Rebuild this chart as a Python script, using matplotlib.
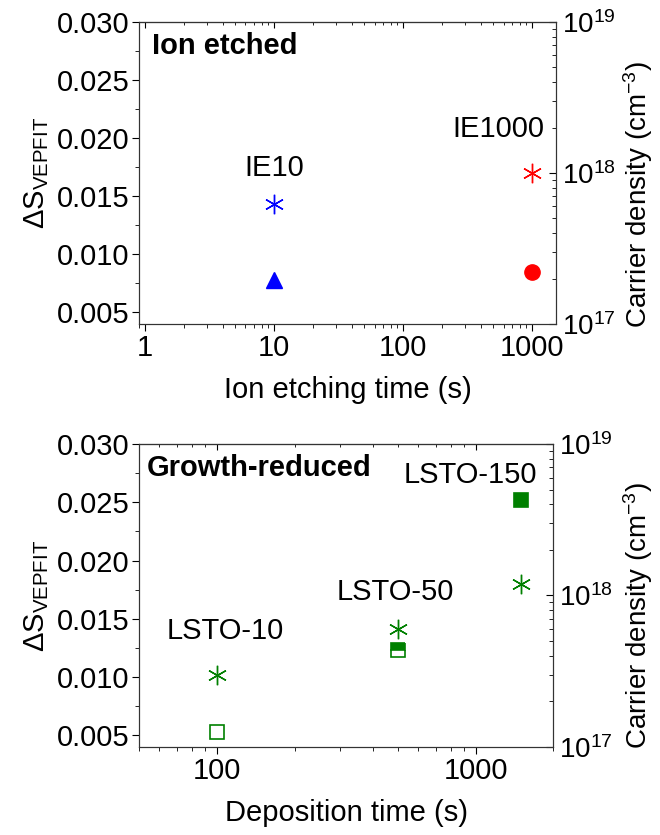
import matplotlib
matplotlib.use('Agg')
import matplotlib.pyplot as plt
from matplotlib.ticker import MultipleLocator, LogLocator, NullFormatter

plt.rcParams['font.family'] = ['Liberation Sans', 'DejaVu Sans']
plt.rcParams['mathtext.fontset'] = 'custom'
plt.rcParams['mathtext.rm'] = 'Liberation Sans'
plt.rcParams['mathtext.it'] = 'Liberation Sans:italic'

# ion etched samples
ie_time = [10, 1000]
ie_labels = ['IE10', 'IE1000']
ie_dS = [0.0143, 0.0170]
ie_n = [1.96e17, 2.2e17]
ie_colors = ['#0000ff', '#ff0000']
ie_markers = ['^', 'o']

# growth-reduced samples
gr_time = [100, 500, 1500]
gr_labels = ['LSTO-10', 'LSTO-50', 'LSTO-150']
gr_dS = [0.0102, 0.0141, 0.0180]
gr_n = [1.25e17, 4.4e17, 4.3e18]
gr_fill = ['none', 'top', 'full']

green = '#008000'
star = (6, 2, 0)
fs = 21

fig = plt.figure(figsize=(6.6, 8.35), dpi=100)
ax1 = fig.add_axes([0.2106, 0.612, 0.632, 0.3617])
ax2 = fig.add_axes([0.2106, 0.1054, 0.628, 0.3629])


def style_axes(ax, ax_r, rlab_x, rlab_y):
    ax.set_ylim(0.004, 0.030)
    ax.yaxis.set_major_locator(MultipleLocator(0.005))
    ax.yaxis.set_minor_locator(MultipleLocator(0.0025))
    ax.yaxis.set_major_formatter(plt.FormatStrFormatter('%.3f'))
    ax.xaxis.set_minor_formatter(NullFormatter())
    ax.tick_params(axis='both', which='major', labelsize=fs, direction='out', length=5, pad=2)
    ax.tick_params(axis='both', which='minor', direction='out', length=3)
    ax.set_ylabel(r'$\Delta$S$_{\rm VEPFIT}$', fontsize=fs, labelpad=4)
    # top spine ticks point inward, no labels
    top = ax.secondary_xaxis('top')
    top.set_xticks(ax.get_xticks())
    top.tick_params(which='both', direction='in', labeltop=False)
    top.tick_params(which='major', length=4)
    top.tick_params(which='minor', length=2.5)
    top.spines['top'].set_color('#333333')
    ax_r.set_yscale('log')
    ax_r.set_ylim(1e17, 1e19)
    ax_r.yaxis.set_minor_locator(LogLocator(base=10, subs=range(2, 10)))
    ax_r.yaxis.set_minor_formatter(NullFormatter())
    ax_r.tick_params(axis='y', which='major', labelsize=20, direction='in', length=5, pad=4)
    ax_r.tick_params(axis='y', which='minor', direction='in', length=3)
    ax_r.set_ylabel(r'Carrier density (cm$^{-3}$)', fontsize=20)
    ax_r.yaxis.set_label_coords(rlab_x, rlab_y)
    for a in (ax, ax_r):
        for s in a.spines.values():
            s.set_color('#333333')


# top panel
ax1r = ax1.twinx()
ax1.set_xscale('log')
ax1.set_xlim(0.9, 1530)
ax1.set_xticks([1, 10, 100, 1000])
ax1.set_xticklabels(['1', '10', '100', '1000'])
style_axes(ax1, ax1r, 1.155, 0.43)
ax1.set_xlabel('Ion etching time (s)', fontsize=fs, labelpad=10)
for t, d, n, c, m in zip(ie_time, ie_dS, ie_n, ie_colors, ie_markers):
    ax1.plot(t, d, marker=star, color=c, markersize=14, markeredgewidth=1, linestyle='none')
    ax1r.plot(t, n, marker=m, color=c, markersize=11, linestyle='none')
ax1.text(10, 0.0167, ie_labels[0], fontsize=fs, ha='center', va='baseline')
ax1.text(545, 0.0201, ie_labels[1], fontsize=fs, ha='center', va='baseline')
ax1.text(0.031, 0.92, 'Ion etched', transform=ax1.transAxes, fontsize=fs,
         fontweight='bold', ha='left', va='center')

# bottom panel
ax2r = ax2.twinx()
ax2.set_xscale('log')
ax2.set_xlim(50, 2000)
ax2.set_xticks([100, 1000])
ax2.set_xticklabels(['100', '1000'])
style_axes(ax2, ax2r, 1.163, 0.435)
ax2.set_xlabel('Deposition time (s)', fontsize=fs, labelpad=10)
for t, d, n, f in zip(gr_time, gr_dS, gr_n, gr_fill):
    ax2.plot(t, d, marker=star, color=green, markersize=14, markeredgewidth=1, linestyle='none')
    if f == 'none':
        ax2r.plot(t, n, marker='s', color=green, markerfacecolor='white',
                  markersize=10, markeredgewidth=1.2, linestyle='none')
    else:
        ax2r.plot(t, n, marker='s', color=green, fillstyle=f, markerfacecoloralt='white',
                  markersize=10, markeredgewidth=1.2, linestyle='none')
ax2.text(108, 0.01325, gr_labels[0], fontsize=fs, ha='center', va='baseline')
ax2.text(488, 0.0166, gr_labels[1], fontsize=fs, ha='center', va='baseline')
ax2.text(956, 0.02665, gr_labels[2], fontsize=fs, ha='center', va='baseline')
ax2.text(0.019, 0.92, 'Growth-reduced', transform=ax2.transAxes, fontsize=fs,
         fontweight='bold', ha='left', va='center')

fig.savefig('out.png', dpi=100)
